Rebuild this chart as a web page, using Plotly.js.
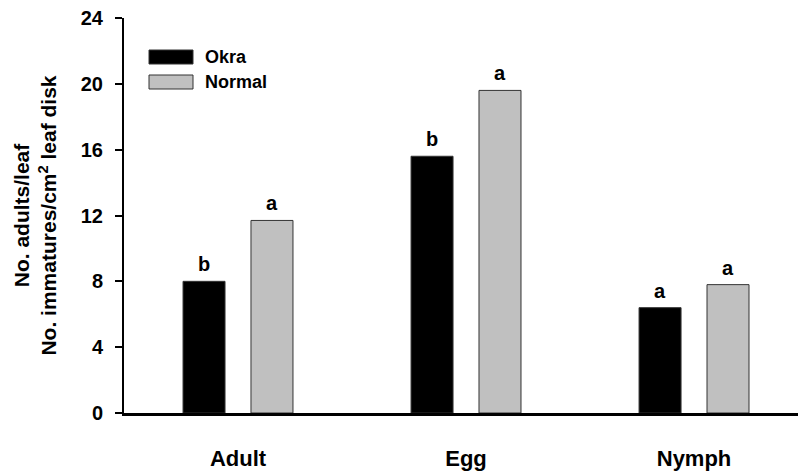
<!DOCTYPE html>
<html>
<head>
<meta charset="utf-8">
<script src="https://cdn.plot.ly/plotly-3.0.1.min.js"></script>
<style>html,body{margin:0;padding:0;background:#fff;}#chart{width:799px;height:472px;}</style>
</head>
<body>
<div id="chart"></div>
<script>
var categories = ["Adult", "Egg", "Nymph"];
var okraValues = [8.0, 15.6, 6.4];
var normalValues = [11.7, 19.6, 7.8];
var okraLetters = ["b", "b", "a"];
var normalLetters = ["a", "a", "a"];
var yTickVals = [0, 4, 8, 12, 16, 20, 24];

var FONT = "Liberation Sans, Arial, Helvetica, sans-serif";

var traces = [
  {type: "bar", name: "Okra", x: categories, y: okraValues,
   marker: {color: "#000000", line: {color: "#333333", width: 1}}, showlegend: false},
  {type: "bar", name: "Normal", x: categories, y: normalValues,
   marker: {color: "#c0c0c0", line: {color: "#333333", width: 1}}, showlegend: false}
];

var annotations = [];
categories.forEach(function (c, i) {
  annotations.push({x: c, y: okraValues[i], xref: "x", yref: "y", text: "<b>" + okraLetters[i] + "</b>",
    showarrow: false, yanchor: "bottom", xshift: -34, yshift: 4, font: {family: FONT, size: 20, color: "#000"}});
  annotations.push({x: c, y: normalValues[i], xref: "x", yref: "y", text: "<b>" + normalLetters[i] + "</b>",
    showarrow: false, yanchor: "bottom", xshift: 34, yshift: 4, font: {family: FONT, size: 20, color: "#000"}});
});

// legend drawn manually (wide swatches)
var legendItems = [{name: "Okra", color: "#000000"}, {name: "Normal", color: "#c0c0c0"}];
var shapes = [];
legendItems.forEach(function (it, i) {
  var y0 = 1 - (32 + i * 25) / 395;
  var y1 = 1 - (46 + i * 25) / 395;
  shapes.push({type: "rect", xref: "paper", yref: "paper", x0: 25 / 674, x1: 69 / 674, y0: y1, y1: y0,
    fillcolor: it.color, line: {color: "#333333", width: 1}});
  annotations.push({xref: "paper", yref: "paper", x: 79 / 674, y: (y0 + y1) / 2, xanchor: "left", yanchor: "middle",
    text: "<b>" + it.name + "</b>", showarrow: false, font: {family: FONT, size: 18, color: "#000"}});
});

var layout = {
  width: 799, height: 472,
  margin: {l: 124, r: 1, t: 18, b: 59},
  paper_bgcolor: "#fff", plot_bgcolor: "#fff",
  barmode: "group", bargap: 0.404, bargroupgap: 0.382,
  font: {family: FONT, color: "#000"},
  xaxis: {
    type: "category", range: [-0.5, 2.456],
    showline: true, linecolor: "#000", linewidth: 2.5,
    ticks: "", showgrid: false, zeroline: false,
    tickfont: {family: FONT, size: 22, color: "#000", weight: "bold"},
    ticklabelstandoff: 24
  },
  yaxis: {
    range: [0, 24], tickvals: yTickVals, ticktext: yTickVals.map(String),
    showline: true, linecolor: "#000", linewidth: 2,
    ticks: "outside", ticklen: 7, tickwidth: 2, tickcolor: "#000",
    showgrid: false, zeroline: false,
    tickfont: {family: FONT, size: 20, color: "#000", weight: "bold"},
    ticklabelstandoff: 8,
    title: {text: "<b>No. adults/leaf<br>No. immatures/cm<sup>2</sup> leaf disk</b>",
      font: {family: FONT, size: 21, color: "#000"}, standoff: 18}
  },
  shapes: shapes,
  annotations: annotations
};

Plotly.newPlot("chart", traces, layout, {displayModeBar: false, staticPlot: true});
</script>
</body>
</html>
